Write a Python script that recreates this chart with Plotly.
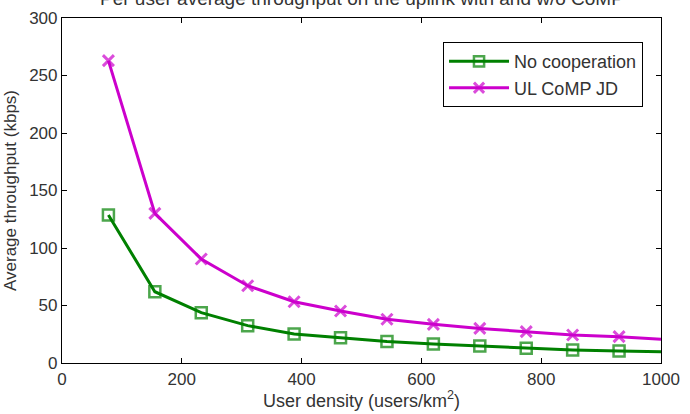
import plotly.graph_objects as go

density = [77.5, 155, 232.5, 310, 387.5, 465, 542.5, 620, 697.5, 775, 852.5, 930, 1007.5]
no_coop = [128.7, 62.0, 43.8, 32.5, 25.2, 22.0, 18.6, 16.5, 14.8, 12.8, 11.3, 10.4, 9.8]
ul_comp = [262.9, 130.1, 90.4, 67.2, 53.3, 45.2, 38.0, 33.6, 30.1, 27.3, 24.3, 22.9, 20.4]

x_ticks = [0, 200, 400, 600, 800, 1000]
y_ticks = [0, 50, 100, 150, 200, 250, 300]

FONT = "Liberation Sans, Arial, sans-serif"
TXT = "#333333"
msize = [11] * (len(density) - 1) + [0]

fig = go.Figure()
fig.add_trace(go.Scatter(
    x=density, y=no_coop, name="No cooperation", mode="lines+markers",
    line=dict(color="#008000", width=3),
    marker=dict(symbol="square-open", size=msize, color="#008000", line=dict(width=2.5, color="#008000")),
))
fig.add_trace(go.Scatter(
    x=density, y=ul_comp, name="UL CoMP JD", mode="lines+markers",
    line=dict(color="#cc00cc", width=3),
    marker=dict(symbol="x-thin-open", size=msize, color="#cc00cc", line=dict(width=3, color="#cc00cc")),
))

axis_common = dict(
    showline=True, linecolor="black", linewidth=1.2, mirror="allticks",
    ticks="inside", ticklen=5, tickcolor="black", showgrid=False, zeroline=False,
    tickfont=dict(family=FONT, size=17, color=TXT), automargin=False,
)
fig.update_xaxes(range=[0, 1000], tickvals=x_ticks, ticktext=[str(v) for v in x_ticks],
                 title=dict(text="User density (users/km<sup>2</sup>)", font=dict(family=FONT, size=18, color=TXT), standoff=5),
                 **axis_common)
fig.update_yaxes(range=[0, 300], tickvals=y_ticks, ticktext=[str(v) for v in y_ticks],
                 title=dict(text="Average throughput (kbps)", font=dict(family=FONT, size=17, color=TXT), standoff=8),
                 **axis_common)

fig.add_annotation(text="Per user average throughput on the uplink with and w/o CoMP",
                   xref="paper", yref="paper", x=0.5, y=1.02, xanchor="center", yanchor="bottom",
                   showarrow=False, font=dict(family=FONT, size=19, color=TXT))

fig.update_layout(
    width=690, height=414,
    margin=dict(l=62, r=29, t=18, b=51),
    paper_bgcolor="white", plot_bgcolor="white",
    showlegend=True,
    legend=dict(x=0.97, y=0.93, xanchor="right", yanchor="top",
                bordercolor="black", borderwidth=1, bgcolor="white",
                font=dict(family=FONT, size=18, color=TXT),
                itemwidth=60),
)

fig.write_html("out.html")
